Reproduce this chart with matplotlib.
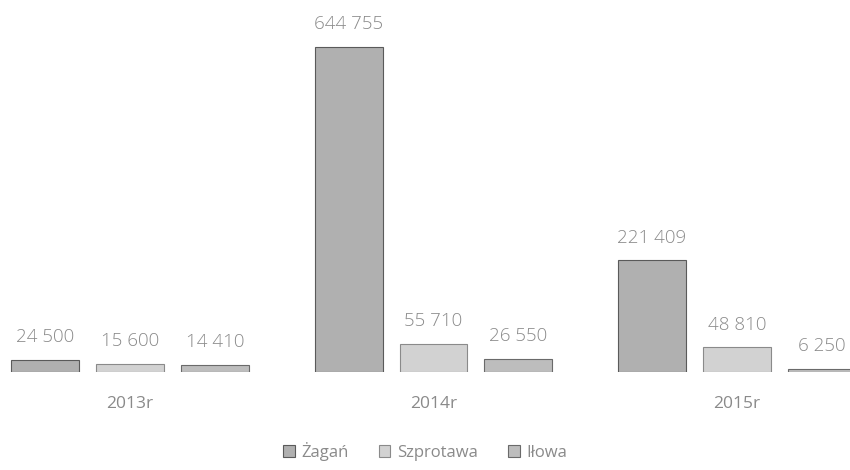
import numpy as np
import matplotlib.pyplot as plt

years = ['2013r', '2014r', '2015r']
series = ['Żagań', 'Szprotawa', 'Iłowa']
zagan = [24500, 644755, 221409]
szprotawa = [15600, 55710, 48810]
ilowa = [14410, 26550, 6250]

values = [zagan, szprotawa, ilowa]
face = ['#b0b0b0', '#d2d2d2', '#bdbdbd']
edge = ['#5a5a5a', '#8a8a8a', '#6a6a6a']

plt.rcParams['font.family'] = ['Open Sans', 'DejaVu Sans']

fig = plt.figure(figsize=(8.5, 4.7), dpi=100)
ax = fig.add_axes([0, 0.2085, 1, 0.7915])

x = np.arange(len(years))
step = 0.28
width = 0.224
for i, vals in enumerate(values):
    pos = x + (i - 1) * step
    bars = ax.bar(pos, vals, width, color=face[i], edgecolor=edge[i],
                  linewidth=0.8, label=series[i])
    for p, v in zip(pos, vals):
        lbl = f'{v:,}'.replace(',', ' ')
        ax.annotate(lbl, (p, v), xytext=(0, 10), textcoords='offset points',
                    ha='center', va='bottom', fontsize=13.5, color='#8a8a8a',
                    fontweight='light')

ax.set_xlim(-0.429, 2.373)
ax.set_ylim(0, 738000)
for s in ax.spines.values():
    s.set_visible(False)
ax.set_yticks([])
ax.set_xticks(x)
ax.set_xticklabels(years, fontsize=12.5, color='#8a8a8a')
ax.tick_params(axis='x', length=0, pad=17)

fig.legend(loc='lower center', bbox_to_anchor=(0.5, -0.012), ncol=3, frameon=False,
           fontsize=12, labelcolor='#8a8a8a', handlelength=0.7, handleheight=0.7,
           columnspacing=1.8, handletextpad=0.4)

fig.savefig('out.png', dpi=100)
